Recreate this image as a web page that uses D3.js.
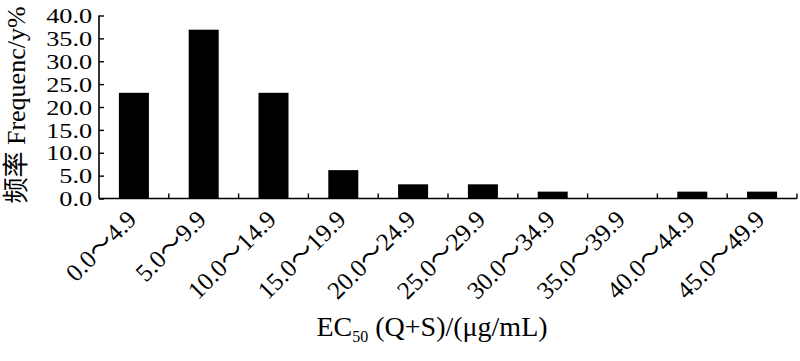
<!DOCTYPE html>
<html>
<head>
<meta charset="utf-8">
<script src="https://cdn.jsdelivr.net/npm/d3@7"></script>
<style>
  body { margin: 0; background: #fff; }
  text { font-family: "Liberation Serif", "Times New Roman", "Noto Sans CJK SC", serif; fill: #000; }
</style>
</head>
<body>
<script>
// EC50 ranges and frequency (%)
const ranges = ["0.0〜4.9", "5.0〜9.9", "10.0〜14.9", "15.0〜19.9", "20.0〜24.9",
                "25.0〜29.9", "30.0〜34.9", "35.0〜39.9", "40.0〜44.9", "45.0〜49.9"];
const freq = [23.1, 36.9, 23.1, 6.2, 3.1, 3.1, 1.5, 0, 1.5, 1.5];
const yTicks = [0, 5, 10, 15, 20, 25, 30, 35, 40];

const W = 800, H = 361;
const mLeft = 99, mRight = 797, mTop = 15.5, mBottom = 198.5;

const svg = d3.select("body").append("svg")
    .attr("width", W)
    .attr("height", H);

const x = d3.scaleBand().domain(ranges).range([mLeft, mRight]).paddingInner(0).paddingOuter(0);
const y = d3.scaleLinear().domain([0, 40]).range([mBottom, mTop]);

// bars
const barW = x.bandwidth() * 0.43;
svg.append("g").selectAll("rect")
    .data(ranges)
    .join("rect")
    .attr("x", (d) => x(d) + x.bandwidth() / 2 - barW / 2)
    .attr("y", (d, i) => y(freq[i]))
    .attr("width", barW)
    .attr("height", (d, i) => mBottom - y(freq[i]))
    .attr("fill", "#000");

// y axis, ticks pointing inward
const gy = svg.append("g")
    .attr("transform", "translate(" + mLeft + ",0)")
    .call(d3.axisRight(y).tickValues(yTicks).tickSize(5).tickFormat(d3.format(".1f")));
gy.select(".domain").attr("d", "M0," + mTop + "V" + mBottom).attr("stroke-width", 1.6);
gy.selectAll(".tick line").attr("stroke-width", 1.4);
// labels look wide in the original, stretch them a bit
gy.selectAll(".tick text")
    .attr("x", -5.5)
    .attr("dy", "0.34em")
    .attr("transform", "scale(1.25,1)")
    .attr("text-anchor", "end")
    .style("font-size", "21px");

// x axis line with ticks at band edges pointing up
const gx = svg.append("g");
gx.append("line")
    .attr("x1", mLeft).attr("x2", mRight)
    .attr("y1", mBottom).attr("y2", mBottom)
    .attr("stroke", "#000").attr("stroke-width", 1.6);
gx.selectAll("line.tk")
    .data(ranges)
    .join("line")
    .attr("class", "tk")
    .attr("x1", (d) => x(d) + x.bandwidth())
    .attr("x2", (d) => x(d) + x.bandwidth())
    .attr("y1", mBottom)
    .attr("y2", mBottom - 5)
    .attr("stroke", "#000").attr("stroke-width", 1.4);

// rotated category labels
gx.selectAll("text")
    .data(ranges)
    .join("text")
    .attr("transform", (d) => "translate(" + (x(d) + x.bandwidth() / 2 + 4) + ",221) rotate(-45)")
    .attr("text-anchor", "end")
    .style("font-size", "25px")
    .text((d) => d);

// x title
const xt = svg.append("text")
    .attr("x", 432)
    .attr("y", 336)
    .attr("text-anchor", "middle")
    .style("font-size", "28px");
xt.append("tspan").text("EC");
xt.append("tspan").attr("dy", 6).style("font-size", "16px").text("50");
xt.append("tspan").attr("dy", -6).text(" (Q+S)/(μg/mL)");

// y title
svg.append("text")
    .attr("transform", "translate(25,105) rotate(-90)")
    .attr("text-anchor", "middle")
    .style("font-size", "26px")
    .text("频率 Frequenc/y%");
</script>
</body>
</html>
